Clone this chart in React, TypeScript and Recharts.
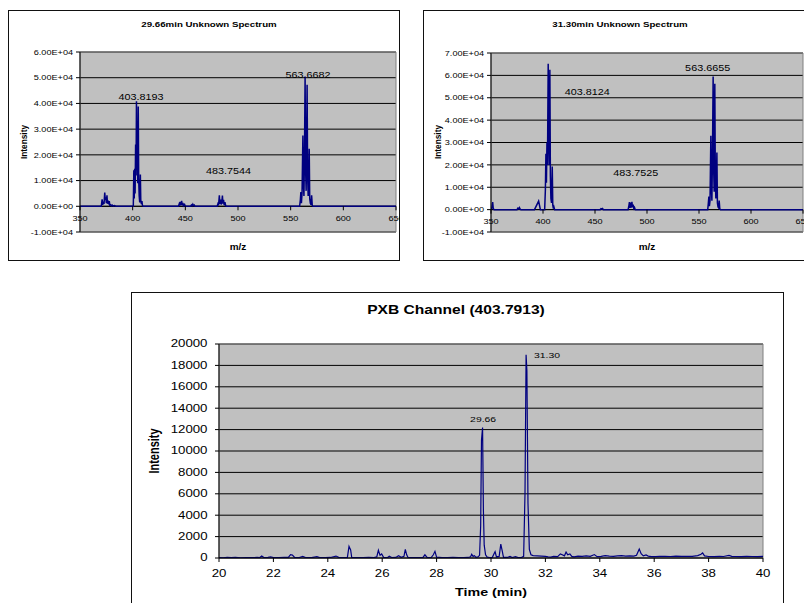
import React from "react";
import {
  ComposedChart,
  Line,
  Scatter,
  XAxis,
  YAxis,
  CartesianGrid,
  ReferenceLine,
  ReferenceArea,
} from "recharts";

const FONT = '"Liberation Sans", Arial, sans-serif';
const NAVY = "#000080";
const PLOT_BG = "#C0C0C0";

// 29.66 min spectrum (m/z vs intensity)
const spec1Mz = [
  350, 370.2, 371.0, 371.5, 372.2, 372.8, 373.5, 374.0, 374.5, 375.0, 375.6, 376.1, 376.8, 377.3,
  377.8, 378.3, 379.0, 379.8, 380.5, 381.5, 383.0, 384.0,
  400.6, 401.1, 401.5, 401.9, 402.3, 402.8, 403.2, 403.6, 404.0, 404.4, 404.8, 405.3, 405.7, 406.2,
  406.7, 407.3, 407.7, 408.3, 408.8, 409.3, 410.0,
  443.5, 444.2, 444.7, 445.3, 445.8, 446.5, 447.0, 447.7, 448.2, 449.3, 450.0,
  455.0, 455.8, 456.4, 457.1, 457.7, 458.5, 459.2,
  480.2, 480.9, 481.5, 482.3, 482.8, 483.5, 484.0, 484.7, 485.2, 485.7, 486.3, 486.9, 487.6, 488.3, 489.0,
  558.5, 559.2, 559.7, 560.2, 560.8, 561.6, 562.1, 562.6, 563.1, 563.7, 564.2, 564.7, 565.1, 565.6,
  566.1, 566.6, 567.1, 567.6, 568.1, 568.7, 569.3, 569.9, 570.5, 571.2,
  650,
];
const spec1Int = [
  0, 0, 2700, 600, 1800, 900, 5300, 2500, 3500, 1200, 4300, 1000, 2200, 700,
  2000, 400, 600, 200, 500, 100, 300, 0,
  0, 14000, 3000, 14600, 5000, 24000, 12000, 40800, 22000, 25000, 9000, 38800, 11000, 4000,
  1500, 12400, 2500, 800, 2000, 300, 0,
  0, 900, 300, 1700, 500, 2100, 400, 1300, 200, 700, 0,
  0, 500, 200, 800, 300, 500, 0,
  0, 900, 300, 4300, 900, 2600, 700, 1800, 4200, 1000, 2500, 400, 1600, 200, 0,
  0, 2500, 5500, 1200, 5000, 27500, 9000, 4000, 19000, 50500, 14000, 6000, 22000, 47300,
  12000, 4000, 8000, 22400, 3000, 1200, 600, 4300, 300, 0,
  0,
];
const spec1Labels = ["403.8193", "563.6682", "483.7544"];
const spec1LabelMz = [408, 566.5, 490.9];
const spec1LabelInt = [42400, 51000, 13600];
const spec1Ticks = [-10000, 0, 10000, 20000, 30000, 40000, 50000, 60000];

// 31.30 min spectrum
const spec2Mz = [
  350, 350.8, 351.6, 352.2, 353.0,
  375.0, 375.8, 376.5, 377.3, 378.0, 378.8,
  391.8, 395.8, 397.5,
  401.6, 402.3, 402.8, 403.3, 403.8, 404.3, 405.0, 405.5, 406.0, 406.6, 407.1, 407.6, 408.2, 408.9,
  409.4, 410.0, 410.5, 411.2,
  455.0, 455.8, 456.5, 457.3, 458.0,
  481.8, 482.5, 483.1, 483.6, 484.3, 484.8, 485.5, 486.0, 486.7, 487.3, 488.0, 488.7,
  558.4, 559.0, 559.5, 560.0, 560.6, 561.4, 561.9, 562.4, 562.9, 563.6, 564.1, 564.6, 565.2, 565.7,
  566.2, 566.7, 567.2, 567.7, 568.3, 568.9, 569.4, 570.0, 570.7,
  650,
];
const spec2Int = [
  300, 800, 3400, 400, 0,
  0, 600, 300, 900, 200, 0,
  0, 3800, 0,
  0, 9000, 25000, 12000, 30000, 20000, 65200, 35000, 20000, 62500, 15000, 5000, 3000, 19300,
  2000, 500, 1200, 0,
  0, 400, 300, 500, 0,
  0, 1500, 3400, 800, 3200, 900, 3500, 1000, 2200, 500, 1000, 0,
  0, 3000, 5800, 1500, 4000, 33000, 10000, 4000, 22000, 59500, 18000, 8000, 56300, 14000,
  5000, 9000, 25500, 3000, 1200, 800, 4000, 300, 0,
  0,
];
const spec2Labels = ["403.8124", "563.6655", "483.7525"];
const spec2LabelMz = [442.6, 558.3, 489.2];
const spec2LabelInt = [52800, 63500, 16400];
const spec2Ticks = [-10000, 0, 10000, 20000, 30000, 40000, 50000, 60000, 70000];

const mzTicks = [350, 400, 450, 500, 550, 600, 650];

// PXB channel (403.7913) chromatogram
const pxbTime = [
  20.0, 20.15, 20.3, 20.45, 20.6, 20.8, 21.0, 21.2, 21.4, 21.5, 21.57, 21.65, 21.8, 21.9, 22.0,
  22.2, 22.4, 22.55, 22.63, 22.7, 22.78, 22.95, 23.08, 23.18, 23.4, 23.6, 23.7, 23.9, 24.1, 24.3,
  24.4, 24.6, 24.72, 24.78, 24.84, 24.88, 25.1, 25.3, 25.5, 25.7, 25.8, 25.86, 25.92, 25.98, 26.05,
  26.2, 26.26, 26.35, 26.5, 26.6, 26.7, 26.8, 26.85, 26.9, 26.95, 27.1, 27.3, 27.5, 27.57, 27.65,
  27.8, 27.88, 27.94, 28.0, 28.2, 28.4, 28.6, 28.8, 29.0, 29.15, 29.25, 29.29, 29.34, 29.39, 29.45,
  29.52, 29.58, 29.62, 29.65, 29.69, 29.72, 29.75, 29.8, 29.86, 29.95, 30.05, 30.12, 30.15, 30.2,
  30.3, 30.36, 30.41, 30.46, 30.6, 30.7, 30.78, 30.9, 31.0, 31.1, 31.2, 31.25, 31.29, 31.32, 31.36,
  31.41, 31.47, 31.55, 31.7, 31.85, 32.0, 32.1, 32.2, 32.3, 32.45, 32.55, 32.62, 32.7, 32.76, 32.82,
  32.9, 32.97, 33.05, 33.2, 33.35, 33.5, 33.65, 33.8, 33.9, 34.05, 34.2, 34.35, 34.5, 34.65, 34.8,
  34.95, 35.1, 35.25, 35.35, 35.45, 35.52, 35.6, 35.7, 35.78, 35.9, 36.05, 36.2, 36.4, 36.6, 36.8,
  37.0, 37.2, 37.4, 37.6, 37.72, 37.78, 37.85, 38.0, 38.2, 38.4, 38.55, 38.75, 38.85, 39.0, 39.2,
  39.4, 39.6, 39.8, 40.0,
];
const pxbInt = [
  40, 20, 60, 30, 50, 20, 40, 30, 50, 40, 190, 40, 60, 110, 40,
  30, 50, 60, 320, 280, 50, 40, 150, 40, 30, 120, 30, 40, 50, 180,
  60, 40, 60, 1090, 750, 50, 40, 30, 50, 40, 100, 720, 250, 380, 60,
  40, 160, 40, 50, 210, 60, 150, 810, 300, 50, 40, 30, 60, 300, 50,
  40, 300, 620, 80, 40, 30, 50, 40, 30, 50, 120, 350, 150, 220, 60,
  100, 250, 3000, 11000, 12200, 4500, 1200, 300, 80, 40, 60, 450, 600, 100,
  150, 1300, 700, 60, 50, 150, 40, 120, 40, 30, 150, 6000, 19000, 17500, 5100,
  800, 300, 220, 200, 180, 150, 110, 80, 150, 120, 380, 300, 200, 550, 300,
  380, 150, 100, 180, 150, 200, 150, 320, 130, 150, 220, 180, 150, 200, 220,
  180, 200, 170, 250, 840, 400, 200, 280, 180, 130, 120, 160, 150, 140, 170,
  150, 160, 150, 220, 350, 470, 200, 140, 120, 160, 140, 250, 150, 140, 130,
  150, 140, 130, 150,
];
const pxbLabels = ["29.66", "31.30"];
const pxbLabelTime = [29.71, 32.06];
const pxbLabelInt = [12960, 18970];
const timeTicks = [20, 22, 24, 26, 28, 30, 32, 34, 36, 38, 40];
const pxbTicks = [0, 2000, 4000, 6000, 8000, 10000, 12000, 14000, 16000, 18000, 20000];

// text that is a little wider than tall, like the scanned Excel charts
function SText({ x, y, s = 1, size, bold = false, anchor = "middle", rotate = 0, children }: any) {
  return (
    <text
      transform={`translate(${x} ${y}) scale(${s} 1)${rotate ? ` rotate(${rotate})` : ""}`}
      textAnchor={anchor}
      dominantBaseline="central"
      fontFamily={FONT}
      fontSize={size}
      fontWeight={bold ? "bold" : "normal"}
      fill="#000"
    >
      {children}
    </text>
  );
}

function sci(v: number) {
  if (v === 0) return "0.00E+00";
  const e = Math.floor(Math.log10(Math.abs(v)));
  const m = v / Math.pow(10, e);
  return `${m.toFixed(2)}E${e < 0 ? "-" : "+"}${String(Math.abs(e)).padStart(2, "0")}`;
}

interface SpectrumProps {
  left: number;
  top: number;
  width: number;
  yAxisW: number;
  marginTop: number;
  marginRight: number;
  mz: number[];
  inten: number[];
  yTicks: number[];
  labels: string[];
  labelMz: number[];
  labelInt: number[];
}

const SPEC_H = 251;
const SPEC_XH = 29;

function Spectrum(p: SpectrumProps) {
  const data = p.mz.map((x, i) => ({ x, y: p.inten[i] }));
  const notes = p.labels.map((text, i) => ({ x: p.labelMz[i], y: p.labelInt[i], text }));
  const yMin = p.yTicks[0];
  const yMax = p.yTicks[p.yTicks.length - 1];
  const plotH = SPEC_H - p.marginTop - SPEC_XH;
  const zeroOff = (plotH * (0 - yMin)) / (yMax - yMin);

  return (
    <div style={{ position: "absolute", left: p.left, top: p.top }}>
      <ComposedChart
        width={p.width}
        height={SPEC_H}
        margin={{ top: p.marginTop, right: p.marginRight, bottom: 0, left: 0 }}
      >
        <CartesianGrid vertical={false} stroke="#000" fill={PLOT_BG} fillOpacity={1} />
        <ReferenceArea
          x1={350}
          x2={650}
          y1={yMin}
          y2={yMax}
          fill="none"
          stroke="#808080"
          strokeWidth={1}
        />
        <ReferenceLine y={0} stroke="#000" strokeWidth={1} />
        <XAxis
          type="number"
          dataKey="x"
          domain={[350, 650]}
          ticks={mzTicks}
          interval={0}
          height={SPEC_XH}
          axisLine={false}
          tickLine={false}
          tickSize={0}
          tickMargin={0}
          allowDataOverflow
          tick={(t: any) => {
            const zy = t.y - zeroOff;
            return (
              <g>
                <line x1={t.x} x2={t.x} y1={zy} y2={zy + 4} stroke="#000" />
                <SText x={t.x} y={zy + 12} s={1.2} size={7.6}>
                  {t.payload.value}
                </SText>
              </g>
            );
          }}
        />
        <YAxis
          type="number"
          domain={[yMin, yMax]}
          ticks={p.yTicks}
          interval={0}
          width={p.yAxisW}
          axisLine={{ stroke: "#000" }}
          tickLine={false}
          tickSize={0}
          tickMargin={0}
          allowDataOverflow
          tick={(t: any) => (
            <g>
              <line x1={t.x - 4} x2={t.x} y1={t.y} y2={t.y} stroke="#000" />
              <SText x={t.x - 7} y={t.y} s={1.2} size={7.6} anchor="end">
                {sci(t.payload.value)}
              </SText>
            </g>
          )}
        />
        <Line
          data={data}
          dataKey="y"
          type="linear"
          stroke={NAVY}
          strokeWidth={1.5}
          dot={false}
          isAnimationActive={false}
        />
        <Scatter
          data={notes}
          dataKey="y"
          isAnimationActive={false}
          shape={(s: any) => (
            <SText x={s.cx} y={s.cy} s={1.2} size={9}>
              {s.payload.text}
            </SText>
          )}
        />
      </ComposedChart>
    </div>
  );
}

function Chromatogram() {
  const data = pxbTime.map((x, i) => ({ x, y: pxbInt[i] }));
  const notes = pxbLabels.map((text, i) => ({ x: pxbLabelTime[i], y: pxbLabelInt[i], text }));

  return (
    <div style={{ position: "absolute", left: 131, top: 292 }}>
      <ComposedChart width={652} height={311} margin={{ top: 52, right: 20, bottom: 0, left: 0 }}>
        <CartesianGrid vertical={false} stroke="#000" fill={PLOT_BG} fillOpacity={1} />
        <ReferenceArea x1={20} x2={40} y1={0} y2={20000} fill="none" stroke="#808080" />
        <XAxis
          type="number"
          dataKey="x"
          domain={[20, 40]}
          ticks={timeTicks}
          interval={0}
          height={45}
          axisLine={{ stroke: "#000" }}
          tickLine={false}
          tickSize={0}
          tickMargin={0}
          allowDataOverflow
          tick={(t: any) => (
            <g>
              <line x1={t.x} x2={t.x} y1={t.y} y2={t.y + 4} stroke="#000" />
              <SText x={t.x} y={t.y + 15.7} s={1.3} size={10.2}>
                {t.payload.value}
              </SText>
            </g>
          )}
        />
        <YAxis
          type="number"
          domain={[0, 20000]}
          ticks={pxbTicks}
          interval={0}
          width={88}
          axisLine={{ stroke: "#000" }}
          tickLine={false}
          tickSize={0}
          tickMargin={0}
          allowDataOverflow
          tick={(t: any) => (
            <g>
              <line x1={t.x - 4} x2={t.x} y1={t.y} y2={t.y} stroke="#000" />
              <SText x={t.x - 11.5} y={t.y} s={1.3} size={10.2} anchor="end">
                {t.payload.value}
              </SText>
            </g>
          )}
        />
        <Line
          data={data}
          dataKey="y"
          type="linear"
          stroke={NAVY}
          strokeWidth={1.2}
          dot={false}
          isAnimationActive={false}
        />
        <Scatter
          data={notes}
          dataKey="y"
          isAnimationActive={false}
          shape={(s: any) => (
            <SText x={s.cx} y={s.cy} s={1.3} size={8}>
              {s.payload.text}
            </SText>
          )}
        />
      </ComposedChart>
    </div>
  );
}

const frame = (left: number, top: number, width: number, height: number): React.CSSProperties => ({
  position: "absolute",
  left,
  top,
  width,
  height,
  border: "1px solid #111",
  boxSizing: "border-box",
  background: "#fff",
});

export default function App() {
  return (
    <div
      style={{
        position: "absolute",
        left: 0,
        top: 0,
        width: 804,
        height: 603,
        overflow: "hidden",
        background: "#fff",
        fontFamily: FONT,
      }}
    >
      <div style={frame(8, 10, 392, 251)} />
      <div style={frame(423, 10, 400, 251)} />
      <div style={frame(131, 292, 653, 330)} />

      <Spectrum
        left={8}
        top={10}
        width={392}
        yAxisW={72}
        marginTop={42}
        marginRight={4}
        mz={spec1Mz}
        inten={spec1Int}
        yTicks={spec1Ticks}
        labels={spec1Labels}
        labelMz={spec1LabelMz}
        labelInt={spec1LabelInt}
      />
      <Spectrum
        left={423}
        top={10}
        width={385}
        yAxisW={68}
        marginTop={43}
        marginRight={5}
        mz={spec2Mz}
        inten={spec2Int}
        yTicks={spec2Ticks}
        labels={spec2Labels}
        labelMz={spec2LabelMz}
        labelInt={spec2LabelInt}
      />
      <Chromatogram />

      <svg
        width={804}
        height={603}
        style={{ position: "absolute", left: 0, top: 0, pointerEvents: "none" }}
      >
        <SText x={209} y={24} s={1.2} size={8.1} bold>
          29.66min Unknown Spectrum
        </SText>
        <SText x={23.5} y={142} s={1.2} size={8.3} bold rotate={-90}>
          Intensity
        </SText>
        <SText x={238} y={247} s={1.2} size={8.3} bold>
          m/z
        </SText>

        <SText x={620} y={24} s={1.2} size={8.1} bold>
          31.30min Unknown Spectrum
        </SText>
        <SText x={438} y={142} s={1.2} size={8.3} bold rotate={-90}>
          Intensity
        </SText>
        <SText x={647} y={247} s={1.2} size={8.3} bold>
          m/z
        </SText>

        <SText x={456} y={310} s={1.3} size={12} bold>
          PXB Channel (403.7913)
        </SText>
        <SText x={154} y={451} s={1.3} size={11} bold rotate={-90}>
          Intensity
        </SText>
        <SText x={491} y={592} s={1.3} size={11} bold>
          Time (min)
        </SText>
      </svg>
    </div>
  );
}
